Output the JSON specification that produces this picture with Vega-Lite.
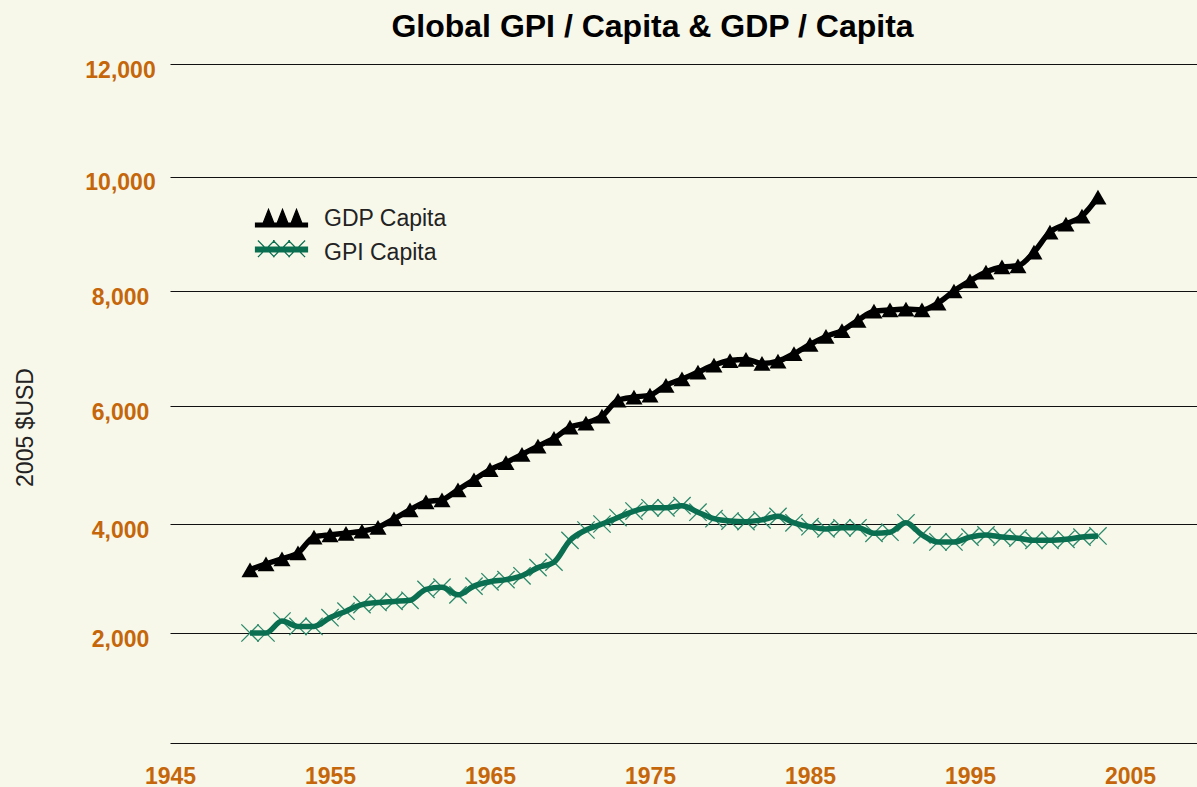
{
  "$schema": "https://vega.github.io/schema/vega-lite/v6.json",
  "width": 1027,
  "height": 679,
  "autosize": {"type": "none"},
  "padding": {"left": 170, "top": 64, "right": 0, "bottom": 44},
  "background": "#f8f8ea",
  "config": {"view": {"stroke": null}, "font": "Liberation Sans"},
  "title": {
    "text": "Global GPI / Capita & GDP / Capita",
    "font": "Liberation Sans",
    "fontSize": 32,
    "fontWeight": "bold",
    "color": "#000000",
    "anchor": "middle",
    "dx": -31,
    "offset": 15
  },
  "data": {
    "values": [
      {"year": 1950, "series": "GDP Capita", "value": 3160},
      {"year": 1951, "series": "GDP Capita", "value": 3270},
      {"year": 1952, "series": "GDP Capita", "value": 3360},
      {"year": 1953, "series": "GDP Capita", "value": 3470},
      {"year": 1954, "series": "GDP Capita", "value": 3760},
      {"year": 1955, "series": "GDP Capita", "value": 3800},
      {"year": 1956, "series": "GDP Capita", "value": 3830},
      {"year": 1957, "series": "GDP Capita", "value": 3870},
      {"year": 1958, "series": "GDP Capita", "value": 3940},
      {"year": 1959, "series": "GDP Capita", "value": 4085},
      {"year": 1960, "series": "GDP Capita", "value": 4240},
      {"year": 1961, "series": "GDP Capita", "value": 4375},
      {"year": 1962, "series": "GDP Capita", "value": 4410},
      {"year": 1963, "series": "GDP Capita", "value": 4580},
      {"year": 1964, "series": "GDP Capita", "value": 4750},
      {"year": 1965, "series": "GDP Capita", "value": 4920},
      {"year": 1966, "series": "GDP Capita", "value": 5040},
      {"year": 1967, "series": "GDP Capita", "value": 5180},
      {"year": 1968, "series": "GDP Capita", "value": 5320},
      {"year": 1969, "series": "GDP Capita", "value": 5450},
      {"year": 1970, "series": "GDP Capita", "value": 5640},
      {"year": 1971, "series": "GDP Capita", "value": 5710},
      {"year": 1972, "series": "GDP Capita", "value": 5830},
      {"year": 1973, "series": "GDP Capita", "value": 6100},
      {"year": 1974, "series": "GDP Capita", "value": 6155},
      {"year": 1975, "series": "GDP Capita", "value": 6190},
      {"year": 1976, "series": "GDP Capita", "value": 6360},
      {"year": 1977, "series": "GDP Capita", "value": 6470},
      {"year": 1978, "series": "GDP Capita", "value": 6590},
      {"year": 1979, "series": "GDP Capita", "value": 6710},
      {"year": 1980, "series": "GDP Capita", "value": 6790},
      {"year": 1981, "series": "GDP Capita", "value": 6810},
      {"year": 1982, "series": "GDP Capita", "value": 6740},
      {"year": 1983, "series": "GDP Capita", "value": 6780},
      {"year": 1984, "series": "GDP Capita", "value": 6910},
      {"year": 1985, "series": "GDP Capita", "value": 7070},
      {"year": 1986, "series": "GDP Capita", "value": 7210},
      {"year": 1987, "series": "GDP Capita", "value": 7310},
      {"year": 1988, "series": "GDP Capita", "value": 7490},
      {"year": 1989, "series": "GDP Capita", "value": 7650},
      {"year": 1990, "series": "GDP Capita", "value": 7670},
      {"year": 1991, "series": "GDP Capita", "value": 7685},
      {"year": 1992, "series": "GDP Capita", "value": 7670},
      {"year": 1993, "series": "GDP Capita", "value": 7790},
      {"year": 1994, "series": "GDP Capita", "value": 8000},
      {"year": 1995, "series": "GDP Capita", "value": 8175},
      {"year": 1996, "series": "GDP Capita", "value": 8330},
      {"year": 1997, "series": "GDP Capita", "value": 8420},
      {"year": 1998, "series": "GDP Capita", "value": 8440},
      {"year": 1999, "series": "GDP Capita", "value": 8680},
      {"year": 2000, "series": "GDP Capita", "value": 9030},
      {"year": 2001, "series": "GDP Capita", "value": 9170},
      {"year": 2002, "series": "GDP Capita", "value": 9310},
      {"year": 2003, "series": "GDP Capita", "value": 9640},
      {"year": 1950, "series": "GPI Capita", "value": 2000},
      {"year": 1951, "series": "GPI Capita", "value": 2000},
      {"year": 1952, "series": "GPI Capita", "value": 2220},
      {"year": 1953, "series": "GPI Capita", "value": 2120},
      {"year": 1954, "series": "GPI Capita", "value": 2120},
      {"year": 1955, "series": "GPI Capita", "value": 2280},
      {"year": 1956, "series": "GPI Capita", "value": 2400},
      {"year": 1957, "series": "GPI Capita", "value": 2520},
      {"year": 1958, "series": "GPI Capita", "value": 2560},
      {"year": 1959, "series": "GPI Capita", "value": 2580},
      {"year": 1960, "series": "GPI Capita", "value": 2600},
      {"year": 1961, "series": "GPI Capita", "value": 2800},
      {"year": 1962, "series": "GPI Capita", "value": 2840},
      {"year": 1963, "series": "GPI Capita", "value": 2700},
      {"year": 1964, "series": "GPI Capita", "value": 2860},
      {"year": 1965, "series": "GPI Capita", "value": 2940},
      {"year": 1966, "series": "GPI Capita", "value": 2980},
      {"year": 1967, "series": "GPI Capita", "value": 3050},
      {"year": 1968, "series": "GPI Capita", "value": 3200},
      {"year": 1969, "series": "GPI Capita", "value": 3300},
      {"year": 1970, "series": "GPI Capita", "value": 3700},
      {"year": 1971, "series": "GPI Capita", "value": 3890},
      {"year": 1972, "series": "GPI Capita", "value": 4000},
      {"year": 1973, "series": "GPI Capita", "value": 4110},
      {"year": 1974, "series": "GPI Capita", "value": 4220},
      {"year": 1975, "series": "GPI Capita", "value": 4275},
      {"year": 1976, "series": "GPI Capita", "value": 4275},
      {"year": 1977, "series": "GPI Capita", "value": 4310},
      {"year": 1978, "series": "GPI Capita", "value": 4200},
      {"year": 1979, "series": "GPI Capita", "value": 4090},
      {"year": 1980, "series": "GPI Capita", "value": 4050},
      {"year": 1981, "series": "GPI Capita", "value": 4040},
      {"year": 1982, "series": "GPI Capita", "value": 4070},
      {"year": 1983, "series": "GPI Capita", "value": 4130},
      {"year": 1984, "series": "GPI Capita", "value": 4020},
      {"year": 1985, "series": "GPI Capita", "value": 3950},
      {"year": 1986, "series": "GPI Capita", "value": 3910},
      {"year": 1987, "series": "GPI Capita", "value": 3930},
      {"year": 1988, "series": "GPI Capita", "value": 3930},
      {"year": 1989, "series": "GPI Capita", "value": 3830},
      {"year": 1990, "series": "GPI Capita", "value": 3850},
      {"year": 1991, "series": "GPI Capita", "value": 4020},
      {"year": 1992, "series": "GPI Capita", "value": 3800},
      {"year": 1993, "series": "GPI Capita", "value": 3670},
      {"year": 1994, "series": "GPI Capita", "value": 3670},
      {"year": 1995, "series": "GPI Capita", "value": 3760},
      {"year": 1996, "series": "GPI Capita", "value": 3800},
      {"year": 1997, "series": "GPI Capita", "value": 3760},
      {"year": 1998, "series": "GPI Capita", "value": 3740},
      {"year": 1999, "series": "GPI Capita", "value": 3700},
      {"year": 2000, "series": "GPI Capita", "value": 3700},
      {"year": 2001, "series": "GPI Capita", "value": 3720},
      {"year": 2002, "series": "GPI Capita", "value": 3760},
      {"year": 2003, "series": "GPI Capita", "value": 3780}
    ]
  },
  "encoding": {
    "x": {
      "field": "year",
      "type": "quantitative",
      "scale": {"domain": [1945, 2009.19], "nice": false, "zero": false},
      "axis": {
        "values": [1945, 1955, 1965, 1975, 1985, 1995, 2005],
        "format": "d",
        "grid": false,
        "domain": false,
        "ticks": false,
        "tickSize": 0,
        "labelFont": "Liberation Sans",
        "labelFontSize": 23,
        "labelFontWeight": "bold",
        "labelColor": "#c5660a",
        "labelPadding": 22,
        "labelBaseline": "top",
        "labelFlush": false,
        "labelOverlap": false,
        "labelBound": false,
        "title": null
      }
    },
    "y": {
      "field": "value",
      "type": "quantitative",
      "scale": {
        "domain": [0, 2000, 4000, 6000, 8000, 10000, 12000],
        "range": [679, 569, 460, 342, 227, 112.5, 0]
      },
      "axis": {
        "values": [0, 2000, 4000, 6000, 8000, 10000, 12000],
        "labelExpr": "datum.value == 0 ? '' : format(datum.value, ',')",
        "grid": true,
        "gridColor": "#111111",
        "gridWidth": 1,
        "gridOpacity": 1,
        "domain": false,
        "ticks": false,
        "tickSize": 0,
        "labelFont": "Liberation Sans",
        "labelFontSize": 23,
        "labelFontWeight": "bold",
        "labelColor": "#c5660a",
        "labelAlign": "center",
        "labelBaseline": "middle",
        "labelPadding": 50,
        "labelOffset": 6,
        "labelBound": false,
        "labelOverlap": false,
        "title": "2005 $USD",
        "titleFont": "Liberation Sans",
        "titleFontSize": 23,
        "titleFontWeight": "normal",
        "titleColor": "#222222",
        "titleAngle": -90,
        "titleAlign": "center",
        "titleBaseline": "alphabetic",
        "titleX": -138,
        "titleY": 363
      }
    }
  },
  "layer": [
    {
      "transform": [{"filter": "datum.series === 'GDP Capita'"}],
      "mark": {"type": "point", "shape": "triangle-up", "filled": true, "color": "#000000", "size": 290, "opacity": 1}
    },
    {
      "transform": [{"filter": "datum.series === 'GPI Capita'"}],
      "mark": {"type": "point", "shape": "M-1,-1L1,1M-1,1L1,-1", "filled": false, "stroke": "#2b8a6c", "strokeWidth": 1.3, "size": 300, "opacity": 1}
    },
    {
      "mark": {"type": "line", "interpolate": "monotone", "strokeWidth": 5.5},
      "encoding": {
        "color": {
          "field": "series",
          "type": "nominal",
          "scale": {"domain": ["GDP Capita", "GPI Capita"], "range": ["#000000", "#0a6e50"]},
          "legend": {
            "orient": "none",
            "legendX": 100,
            "legendY": 143,
            "title": null,
            "padding": 0,
            "labelFont": "Liberation Sans",
            "labelFontSize": 23,
            "labelColor": "#222222",
            "labelOffset": 31,
            "rowPadding": 7,
            "symbolSize": 400,
            "symbolStrokeWidth": 1.2,
            "encode": {
              "symbols": {
                "update": {
                  "shape": {"signal": "datum.value === 'GDP Capita' ? 'M-2.6,0.45L2.6,0.45L2.6,0.85L-2.6,0.85Z M-1.95,0.75L-1.3,-0.9L-0.65,0.75Z M-0.55,0.75L0.1,-0.9L0.75,0.75Z M0.85,0.75L1.5,-0.9L2.15,0.75Z' : 'M-2.6,-0.55L2.6,-0.55L2.6,-0.05L-2.6,-0.05Z M-2.36,-1.2L-0.7,0.46 M-2.36,0.46L-0.7,-1.2 M-0.83,-1.2L0.83,0.46 M-0.83,0.46L0.83,-1.2 M0.7,-1.2L2.36,0.46 M0.7,0.46L2.36,-1.2'"},
                  "fill": {"scale": "color", "field": "value"},
                  "stroke": {"scale": "color", "field": "value"},
                  "strokeWidth": {"value": 1.2},
                  "opacity": {"value": 1},
                  "size": {"value": 400}
                }
              }
            }
          }
        }
      }
    }
  ]
}
